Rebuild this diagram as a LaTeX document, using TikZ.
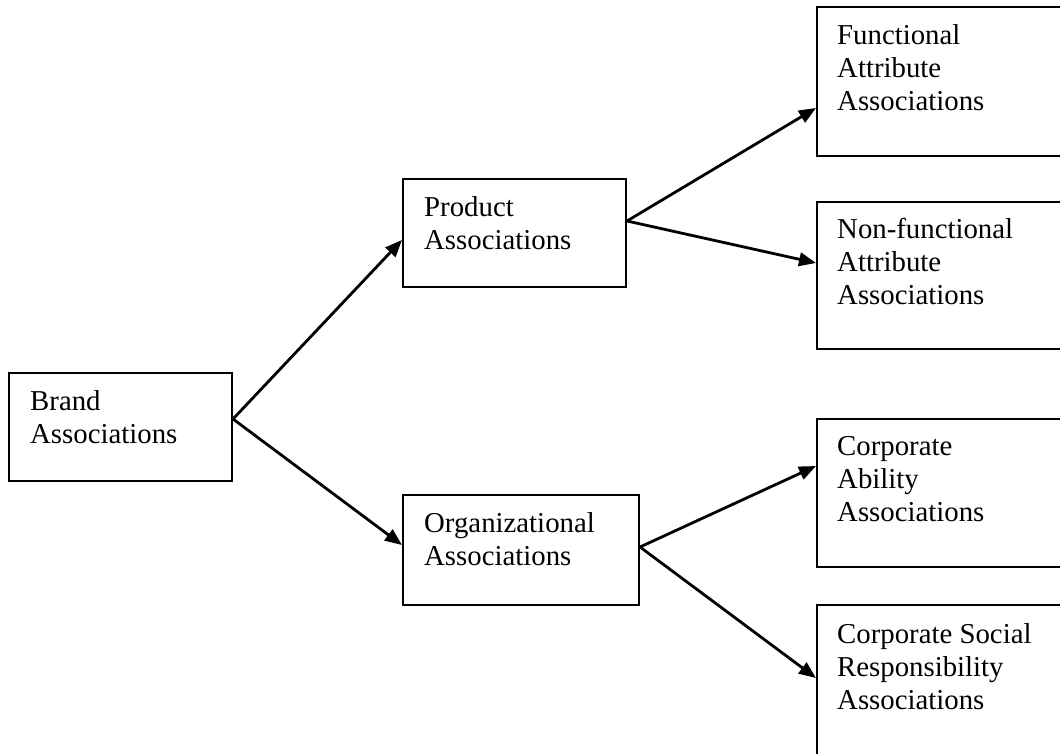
\documentclass[tikz,border=0pt]{standalone}
\usepackage{fontspec}
\setmainfont{Liberation Serif}
\usetikzlibrary{arrows.meta,calc}
\begin{document}
\begin{tikzpicture}[x=1pt,y=-1pt,
  box/.style={draw,rectangle,line width=2pt,inner sep=0pt},
  boxtext/.style={anchor=north west,inner sep=0pt,align=left,
    font=\fontsize{28.8}{33}\selectfont},
  link/.style={line width=2.8pt,-{Triangle[length=17pt,width=13.5pt]}}
]
\useasboundingbox (0,0) rectangle (1060,753);
\clip (0,0) rectangle (1060,753);

% boxes
\node[box,minimum width=223pt,minimum height=108pt] (brand)   at (120.5,427)  {};
\node[box,minimum width=223pt,minimum height=108pt] (product) at (514.5,233)  {};
\node[box,minimum width=236pt,minimum height=110pt] (org)     at (521,550)    {};
\node[box,minimum width=253pt,minimum height=149pt] (func)    at (943.5,81.5) {};
\node[box,minimum width=253pt,minimum height=147pt] (nonfunc) at (943.5,275.5){};
\node[box,minimum width=253pt,minimum height=148pt] (ability) at (943.5,493)  {};
\node[box,minimum width=253pt,minimum height=155pt] (csr)     at (943.5,682.5){};

% box captions, set flush left from the top-left corner
\node[boxtext] (brand-t)   at ($(brand.north west)+(22,14.9)$)   {\strut Brand\\\strut Associations};
\node[boxtext] (product-t) at ($(product.north west)+(22,14.9)$) {\strut Product\\\strut Associations};
\node[boxtext] (org-t)     at ($(org.north west)+(22,14.9)$)     {\strut Organizational\\\strut Associations};
\node[boxtext] (func-t)    at ($(func.north west)+(21,14.9)$)    {\strut Functional\\\strut Attribute\\\strut Associations};
\node[boxtext] (nonfunc-t) at ($(nonfunc.north west)+(21,13.9)$) {\strut Non-functional\\\strut Attribute\\\strut Associations};
\node[boxtext] (ability-t) at ($(ability.north west)+(21,14.4)$) {\strut Corporate\\\strut Ability\\\strut Associations};
\node[boxtext] (csr-t)     at ($(csr.north west)+(21,16.4)$)     {\strut Corporate Social\\\strut Responsibility\\\strut Associations};

% connectors
\draw[link] ([yshift=8pt]brand.east) -- ([yshift=-7pt]product.west);
\draw[link] ([yshift=8pt]brand.east) -- ([yshift=5pt]org.west);
\draw[link] ([yshift=12pt]product.east) -- ([yshift=-26.5pt]func.west);
\draw[link] ([yshift=12pt]product.east) -- ([yshift=12.5pt]nonfunc.west);
\draw[link] ([yshift=3pt]org.east) -- ([yshift=27pt]ability.west);
\draw[link] ([yshift=3pt]org.east) -- ([yshift=4.5pt]csr.west);
\end{tikzpicture}
\end{document}
